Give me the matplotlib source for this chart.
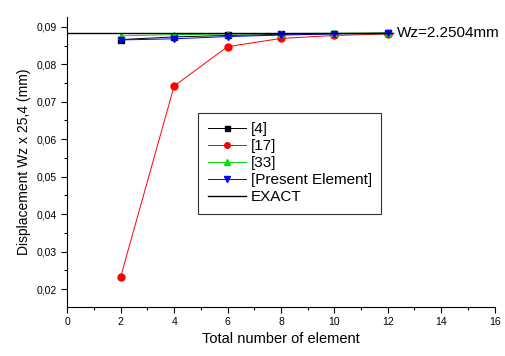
import numpy as np
import matplotlib
matplotlib.use("Agg")
import matplotlib.pyplot as plt
from matplotlib.ticker import MultipleLocator, FuncFormatter

plt.rcParams['font.family'] = ['Liberation Sans', 'DejaVu Sans']

elements = [2, 4, 6, 8, 10, 12]
ref4 = [0.0866, 0.0873, 0.0877, 0.0880, 0.0882, 0.0883]
ref17 = [0.0233, 0.0742, 0.0847, 0.0869, 0.0877, 0.0881]
ref33 = [0.0876, 0.0879, 0.0881, 0.0882, 0.0883, 0.0884]
present = [0.0865, 0.0868, 0.0874, 0.0878, 0.0881, 0.0883]
exact_value = 0.0884
exact_x = [0, 12.2]
exact_label = "Wz=2.2504mm"

fig = plt.figure(figsize=(5.06, 3.56), dpi=100)
ax = fig.add_axes([0.133, 0.1376, 0.8445, 0.8144])

lw = 0.7
ax.plot(elements, ref4, '-', color='black', lw=lw, marker='s', ms=4.5, label='[4]')
ax.plot(elements, ref17, '-', color='red', lw=lw, marker='o', ms=5, label='[17]')
ax.plot(elements, ref33, '-', color='#00dd00', lw=lw, marker='^', ms=5, label='[33]')
ax.plot(elements, present, '-', color='blue', lw=lw, marker='v', ms=5, label='[Present Element]')
ax.plot(exact_x, [exact_value, exact_value], '-', color='black', lw=1.0, label='EXACT')
ax.text(exact_x[1] + 0.15, exact_value, exact_label, fontsize=11, va='center', ha='left')

ax.set_xlim(0, 16)
ax.set_ylim(0.0152, 0.0926)
ax.xaxis.set_major_locator(MultipleLocator(2))
ax.xaxis.set_minor_locator(MultipleLocator(1))
ax.yaxis.set_major_locator(MultipleLocator(0.01))
ax.yaxis.set_minor_locator(MultipleLocator(0.005))
ax.yaxis.set_major_formatter(FuncFormatter(lambda v, p: ("%.2f" % v).replace('.', ',')))

for s in ['top', 'right']:
    ax.spines[s].set_visible(False)
for s in ['left', 'bottom']:
    ax.spines[s].set_linewidth(0.8)
ax.tick_params(which='major', direction='out', length=4, width=0.8, labelsize=7.5)
ax.tick_params(which='minor', direction='out', length=2.5, width=0.8)

ax.set_xlabel("Total number of element", fontsize=10.5, labelpad=3)
ax.set_ylabel("Displacement Wz x 25,4 (mm)", fontsize=10, labelpad=4)

leg = ax.legend(loc='upper left', bbox_to_anchor=(0.307, 0.669), fontsize=11,
                frameon=True, fancybox=False, edgecolor='#333333', framealpha=1,
                handlelength=2.5, borderpad=0.6, labelspacing=0.2, handletextpad=0.35,
                markerscale=0.8, borderaxespad=0)
leg.get_frame().set_linewidth(0.8)

fig.savefig("out.png", dpi=100)
